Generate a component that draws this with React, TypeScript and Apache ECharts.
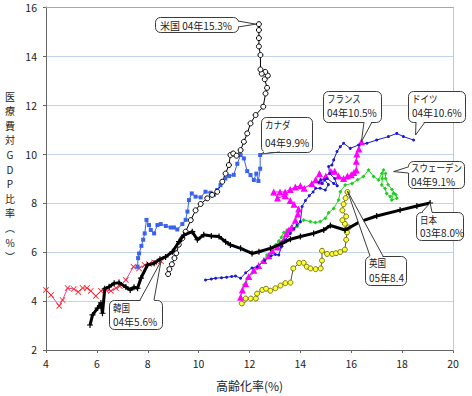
import React, { useEffect, useRef } from "react";
import * as echarts from "echarts";

const FONT = "'Noto Sans CJK JP', 'Noto Sans', sans-serif";

const xTicks = [4, 6, 8, 10, 12, 14, 16, 18, 20];
const yTicks = [2, 4, 6, 8, 10, 12, 14, 16];

const usa: number[][] = [
  [8.8, 5.1], [8.85, 5.3], [8.95, 5.5], [9.05, 5.75], [9.12, 5.95], [9.22, 6.3], [9.36, 6.56], [9.49, 6.83],
  [9.69, 7.3], [9.88, 7.7], [10.08, 7.96], [10.34, 8.19], [10.53, 8.33], [10.73, 8.46], [10.93, 8.87],
  [11.06, 9.2], [11.19, 9.55], [11.25, 9.96], [11.36, 10.02], [11.49, 9.93], [11.65, 10.16], [11.78, 10.5],
  [11.91, 10.84], [12.04, 11.25], [12.24, 11.59], [12.54, 11.93], [12.63, 12.47], [12.69, 12.7], [12.6, 13.05],
  [12.72, 13.2], [12.62, 13.35], [12.48, 13.28], [12.43, 13.45], [12.43, 14.04], [12.37, 14.39], [12.37, 14.73],
  [12.37, 15.06], [12.37, 15.3],
];

const canada: number[][] = [
  [7.6, 5.4], [7.62, 5.75], [7.66, 5.94], [7.75, 6.25], [7.82, 6.5], [7.88, 6.76], [7.95, 7.31], [8.05, 7.1],
  [8.12, 6.9], [8.25, 6.76], [8.38, 7.1], [8.51, 7.14], [8.71, 7.06], [8.9, 7.0], [9.03, 7.0], [9.16, 6.92],
  [9.36, 7.14], [9.49, 7.31], [9.56, 7.65], [9.62, 8.12], [9.73, 8.39], [9.88, 8.26], [10.08, 8.23],
  [10.27, 8.46], [10.47, 8.42], [10.6, 8.33], [10.73, 8.53], [10.86, 8.73], [11.05, 9.0], [11.2, 9.1],
  [11.38, 9.15], [11.52, 9.6], [11.65, 9.96], [11.78, 9.82], [11.91, 9.3], [12.04, 9.14], [12.17, 8.94],
  [12.27, 9.2], [12.35, 8.9], [12.42, 9.4], [12.42, 9.96],
];

const japan: number[][] = [
  [5.73, 3.02], [5.83, 3.43], [6.03, 3.71], [6.16, 3.92], [6.22, 3.5], [6.31, 4.5], [6.48, 4.58], [6.68, 4.72],
  [6.87, 4.75], [7.14, 4.57], [7.31, 4.45], [7.46, 4.56], [7.6, 4.52], [7.73, 4.93], [7.99, 5.47], [8.25, 5.54],
  [8.48, 5.7], [8.7, 5.8], [8.97, 6.01], [9.23, 6.42], [9.42, 6.69], [9.75, 6.83], [9.95, 6.5], [10.2, 6.7],
  [10.5, 6.65], [10.8, 6.63], [11.06, 6.42], [11.25, 6.29], [11.65, 6.15], [12.1, 5.94], [12.37, 6.01],
  [12.82, 6.15], [13.28, 6.35], [13.61, 6.52], [14.0, 6.63], [14.52, 6.76], [14.92, 6.9], [15.18, 7.08],
  [15.76, 6.9], [16.35, 7.24], [17.0, 7.47], [17.92, 7.71], [18.58, 7.88], [19.1, 8.0],
];

const korea: number[][] = [
  [4.0, 4.45], [4.2, 4.24], [4.52, 3.8], [4.65, 4.04], [4.85, 4.53], [5.09, 4.49], [5.27, 4.37], [5.44, 4.53],
  [5.61, 4.53], [5.76, 4.41], [5.96, 4.2], [6.16, 4.41], [6.35, 4.45], [6.55, 4.41], [6.75, 4.53], [6.9, 4.61],
  [7.14, 4.86], [7.44, 5.4], [7.66, 5.33], [7.88, 5.47], [8.05, 5.51], [8.25, 5.58], [8.52, 5.62],
];

const france: number[][] = [
  [11.65, 4.15], [11.72, 4.45], [11.85, 4.7], [11.97, 5.0], [12.17, 5.25], [12.36, 5.45], [12.56, 5.65],
  [12.76, 5.85], [12.9, 6.05], [13.1, 6.2], [13.22, 6.35], [13.35, 6.5], [13.45, 6.75], [13.55, 6.9],
  [13.65, 7.0], [13.8, 7.3], [13.9, 7.55], [13.93, 7.75], [13.75, 7.95], [13.6, 8.1], [13.4, 8.3],
  [13.1, 8.2], [12.95, 8.45], [13.2, 8.45], [13.4, 8.45], [13.6, 8.55], [13.8, 8.65], [14.0, 8.7],
  [14.15, 8.6], [14.45, 8.8], [14.6, 8.95], [14.75, 9.2], [14.8, 8.9], [15.0, 9.1], [15.2, 9.3],
  [15.35, 9.3], [15.5, 9.1], [15.7, 9.0], [15.85, 9.1], [16.0, 9.15], [16.1, 9.25], [16.2, 9.35],
  [16.2, 9.7], [16.22, 10.0], [16.3, 10.2], [16.4, 10.5],
];

const germany: number[][] = [
  [10.27, 4.86], [10.5, 4.9], [10.67, 4.93], [10.9, 4.95], [11.1, 4.97], [11.3, 5.0], [11.45, 5.02],
  [11.65, 4.93], [11.85, 5.15], [12.1, 5.35], [12.3, 5.4], [12.6, 5.65], [12.85, 5.85], [13.02, 5.9],
  [13.15, 5.88], [13.25, 6.2], [13.41, 6.49], [13.6, 6.75], [13.75, 6.95], [13.87, 7.1], [14.0, 7.24],
  [14.07, 7.86], [14.2, 8.1], [14.35, 8.3], [14.5, 8.45], [14.6, 8.6], [14.78, 8.6], [14.98, 8.53],
  [15.1, 8.75], [14.95, 8.95], [14.8, 8.95], [14.72, 8.85], [14.85, 8.8], [15.05, 9.0], [15.31, 8.8],
  [15.45, 8.7], [15.35, 9.0], [15.15, 9.2], [15.11, 9.49], [15.24, 9.55], [15.31, 9.76], [15.44, 10.1],
  [15.57, 10.3], [15.7, 10.44], [15.96, 10.23], [16.29, 10.37], [16.62, 10.44], [17.0, 10.57],
  [17.46, 10.71], [17.79, 10.84], [18.05, 10.71], [18.45, 10.57],
];

const sweden: number[][] = [
  [11.78, 4.65], [11.91, 4.93], [12.1, 5.13], [12.3, 5.33], [12.5, 5.6], [12.69, 5.88], [12.89, 6.08],
  [13.02, 6.29], [13.15, 6.45], [13.25, 6.6], [13.35, 6.8], [13.48, 6.9], [13.65, 6.95], [13.87, 7.04],
  [14.13, 7.31], [14.39, 7.24], [14.59, 7.2], [14.78, 7.24], [14.98, 7.38], [15.11, 7.6], [15.31, 7.78],
  [15.5, 8.12], [15.57, 8.46], [15.76, 8.73], [16.03, 8.8], [16.25, 8.95], [16.48, 9.08], [16.68, 9.35],
  [16.88, 9.08], [17.07, 8.94], [17.2, 9.2], [17.27, 9.35], [17.22, 9.0], [17.2, 8.73], [17.33, 8.59],
  [17.39, 8.39], [17.53, 8.26], [17.66, 8.4], [17.59, 8.12], [17.79, 8.19], [17.75, 8.35], [17.6, 8.55],
  [17.45, 8.75], [17.35, 9.0], [17.35, 9.2],
];

const uk: number[][] = [
  [11.7, 3.9], [11.8, 4.05], [11.85, 4.1], [12.05, 4.1], [12.25, 4.1], [12.3, 4.3], [12.5, 4.45],
  [12.65, 4.5], [12.82, 4.42], [13.02, 4.52], [13.22, 4.63], [13.41, 4.73], [13.61, 4.75], [13.72, 5.33],
  [13.95, 5.55], [14.13, 5.56], [14.25, 5.4], [14.4, 5.33], [14.6, 5.3], [14.8, 5.33], [14.85, 5.65],
  [14.85, 6.05], [15.05, 5.92], [15.25, 5.92], [15.4, 5.95], [15.57, 6.0], [15.75, 6.1], [15.8, 6.5],
  [15.83, 6.8], [15.9, 7.0], [15.75, 7.15], [15.65, 7.3], [15.8, 7.45], [15.65, 7.7], [15.7, 7.95],
  [15.78, 8.2], [15.85, 8.45],
];

const yAxisTitle = "医療費対GDP比率︵%︶";
const xAxisTitle = "高齢化率(%)";

const X_SYMBOL =
  "path://M0,1L1,0L5,4L9,0L10,1L6,5L10,9L9,10L5,6L1,10L0,9L4,5Z";
const CROSS_SYMBOL = "path://M4,0H6V4H10V6H6V10H4V6H0V4H4Z";

export default function App() {
  const ref = useRef<HTMLDivElement>(null);
  useEffect(() => {
    const chart = echarts.init(ref.current!, null, { renderer: "svg" });
    const lineSeries = (
      name: string,
      data: number[][],
      lineColor: string,
      width: number,
      symbol: string,
      symbolSize: number | number[],
      item: any,
      z = 2
    ) => ({
      name,
      type: "line",
      data,
      xAxisIndex: 0,
      yAxisIndex: 0,
      symbol,
      symbolSize,
      showSymbol: true,
      lineStyle: { color: lineColor, width },
      itemStyle: item,
      z,
      emphasis: { disabled: true },
    });

    chart.setOption({
      animation: false,
      backgroundColor: "#ffffff",
      textStyle: { fontFamily: FONT },
      grid: { left: 46, right: 19, top: 7, bottom: 46 },
      xAxis: [
        {
          type: "value",
          min: xTicks[0],
          max: xTicks[xTicks.length - 1],
          interval: 2,
          position: "bottom",
          axisLine: { show: true, lineStyle: { color: "#666666", width: 1 } },
          axisTick: { show: true, length: 3, lineStyle: { color: "#666666" } },
          axisLabel: { color: "#222222", fontSize: 10.5, margin: 8, fontFamily: FONT },
          splitLine: { show: false },
          name: xAxisTitle,
          nameLocation: "middle",
          nameGap: 29,
          nameTextStyle: { color: "#222222", fontSize: 12, fontFamily: FONT },
        },
        {
          type: "value",
          min: xTicks[0],
          max: xTicks[xTicks.length - 1],
          position: "top",
          axisLine: { show: true, lineStyle: { color: "#a8a8a8", width: 1 } },
          axisTick: { show: false },
          axisLabel: { show: false },
          splitLine: { show: false },
          z: 3,
        },
      ],
      yAxis: [
        {
          type: "value",
          min: yTicks[0],
          max: yTicks[yTicks.length - 1],
          interval: 2,
          axisLine: { show: true, lineStyle: { color: "#666666", width: 1 } },
          axisTick: { show: true, length: 3, lineStyle: { color: "#666666" } },
          axisLabel: { color: "#222222", fontSize: 10.5, margin: 9, fontFamily: FONT },
          splitLine: { show: true, lineStyle: { color: "#c3d5ec", width: 1 } },
        },
        {
          type: "value",
          min: yTicks[0],
          max: yTicks[yTicks.length - 1],
          position: "right",
          axisLine: { show: true, lineStyle: { color: "#c0c8d4", width: 1 } },
          axisTick: { show: false },
          axisLabel: { show: false },
          splitLine: { show: false },
          z: 3,
        },
      ],
      series: [
        lineSeries("韓国", korea, "#e6449a", 1, X_SYMBOL, 6, { color: "#ff2020" }),
        lineSeries("英国", uk, "#555544", 1, "circle", 5, {
          color: "#ffff33",
          borderColor: "#77771a",
          borderWidth: 1,
        }),
        lineSeries("スウェーデン", sweden, "#22dd22", 1, "diamond", 4, { color: "#22cc22" }),
        lineSeries("フランス", france, "#ff00ff", 1, "triangle", 7, { color: "#ff00ff" }),
        lineSeries("ドイツ", germany, "#1a1ad0", 1, "circle", 3, { color: "#1a1ad0" }),
        lineSeries("カナダ", canada, "#3a62f0", 1, "rect", 4, { color: "#3a62f0" }),
        lineSeries("米国", usa, "#000000", 1, "circle", 5, {
          color: "#ffffff",
          borderColor: "#000000",
          borderWidth: 1,
        }),
        lineSeries("日本", japan, "#000000", 3, CROSS_SYMBOL, 6, { color: "#000000" }, 4),
      ],
    });

    const P = (d: number[]) =>
      chart.convertToPixel({ xAxisIndex: 0, yAxisIndex: 0 }, d) as number[];
    const last = (a: number[][]) => a[a.length - 1];

    const STROKE = "#3c3c3c";
    const callout = (
      box: { x: number; y: number; w: number; h: number },
      lines: string[],
      tx: number,
      ty: number[],
      b1: number[],
      b2: number[],
      tip: number[],
      squeezeFirst = true
    ) => {
      const els: any[] = [
        {
          type: "rect",
          shape: { x: box.x + 0.5, y: box.y + 0.5, width: box.w, height: box.h, r: 5 },
          style: { fill: "#ffffff", stroke: STROKE, lineWidth: 1 },
          z: 100,
        },
      ];
      const cx = box.x + box.w / 2;
      const cy = box.y + box.h / 2;
      const inward = (p: number[]) => {
        const dx = Math.sign(cx - p[0]) * (Math.abs(cx - p[0]) > box.w / 2 - 1 ? 1.5 : 0);
        const dy = Math.sign(cy - p[1]) * (Math.abs(cy - p[1]) > box.h / 2 - 1 ? 1.5 : 0);
        return [p[0] + dx, p[1] + dy];
      };
      els.push({
        type: "polygon",
        shape: { points: [inward(b1), tip, inward(b2)] },
        style: { fill: "#ffffff", stroke: "none" },
        z: 101,
      });
      els.push({
        type: "polyline",
        shape: { points: [b1, tip, b2] },
        style: { fill: "none", stroke: STROKE, lineWidth: 1 },
        z: 102,
      });
      lines.forEach((t, i) => {
        els.push({
          type: "text",
          x: tx,
          y: ty[i],
          scaleX: squeezeFirst && i === 0 ? 0.85 : 1,
          style: {
            text: t,
            fill: "#222222",
            fontSize: 10,
            fontFamily: FONT,
            align: "left",
            verticalAlign: "middle",
          },
          z: 103,
        });
      });
      return els;
    };

    const add = (p: number[], dx: number, dy: number) => [p[0] + dx, p[1] + dy];

    const yTitleChars = yAxisTitle.split("").map((ch, i) => ({
      type: "text",
      x: 10,
      y: 96 + i * 14.6,
      style: {
        text: ch,
        fill: "#222222",
        fontSize: 10,
        fontFamily: FONT,
        align: "center",
        verticalAlign: "middle",
      },
      z: 103,
    }));

    const graphics: any[] = [
      ...callout({ x: 155, y: 17, w: 83, h: 15 }, ["米国 04年15.3%"], 160, [25], [238, 21], [238, 27], add(P(last(usa)), -3, 0), false),
      ...callout({ x: 261, y: 117, w: 51, h: 35 }, ["カナダ", "04年9.9%"], 265, [125, 142], [264, 152], [280, 152], add(P(last(canada)), 1, -1)),
      ...callout({ x: 109, y: 300, w: 53, h: 29 }, ["韓国", "04年5.6%"], 113, [308, 321], [140, 300], [154, 300], P(last(korea))),
      ...callout({ x: 323, y: 91, w: 58, h: 31 }, ["フランス", "04年10.5%"], 327, [99, 112], [364, 122], [372, 122], P(last(france))),
      ...callout({ x: 408, y: 91, w: 57, h: 31 }, ["ドイツ", "04年10.6%"], 412, [99, 112], [416, 122], [425, 122], add(P(last(germany)), 2, -5)),
      ...callout({ x: 408, y: 161, w: 56, h: 27 }, ["スウェーデン", "04年9.1%"], 411, [168, 181], [408, 167], [408, 173], add(P(last(sweden)), 8, -2)),
      ...callout({ x: 416, y: 212, w: 47, h: 28 }, ["日本", "03年8.0%"], 420, [220, 232], [422, 212], [432, 212], P(last(japan))),
      ...callout({ x: 365, y: 256, w: 41, h: 29 }, ["英国", "05年8.4"], 369, [263, 277], [370, 256], [383, 256], add(P(last(uk)), 0, -1)),
      ...yTitleChars,
    ];

    chart.setOption({ graphic: graphics });
    return () => chart.dispose();
  }, []);

  return (
    <div
      ref={ref}
      style={{ position: "absolute", left: 0, top: 0, width: 472, height: 396, background: "#fff" }}
    />
  );
}
